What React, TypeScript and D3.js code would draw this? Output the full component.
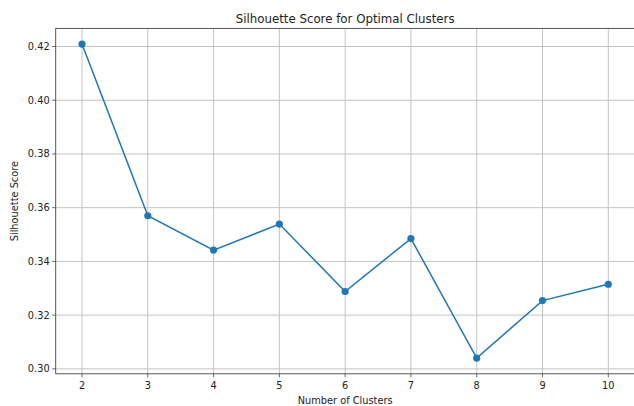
import React from "react";
import * as d3 from "d3";

const clusters = [2, 3, 4, 5, 6, 7, 8, 9, 10];
const scores = [0.4209, 0.357, 0.3442, 0.3539, 0.3288, 0.3485, 0.304, 0.3254, 0.3315];
const yTicks = [0.3, 0.32, 0.34, 0.36, 0.38, 0.4, 0.42];
const title = "Silhouette Score for Optimal Clusters";
const xLabel = "Number of Clusters";
const yLabel = "Silhouette Score";

const W = 634;
const H = 406;
const left = 55.7;
const right = 634.6;
const top = 28.4;
const bottom = 373.8;
const font = "DejaVu Sans, sans-serif";

export default function App() {
  const x = d3.scaleLinear().domain([1.6, 10.4]).range([left, right]);
  const ymin = d3.min(scores)!;
  const ymax = d3.max(scores)!;
  const pad = (ymax - ymin) * 0.05;
  const y = d3.scaleLinear().domain([ymin - pad, ymax + pad]).range([bottom, top]);
  const line = d3
    .line<number>()
    .x((_, i) => x(clusters[i]))
    .y((d) => y(d));
  const color = "#1f77b4";
  return (
    <svg
      width={W}
      height={H}
      style={{ position: "absolute", left: 0, top: 0, background: "#fff" }}
      fontFamily={font}
    >
      <rect x={0} y={0} width={W} height={H} fill="#fff" />
      {/* grid */}
      {clusters.map((c) => (
        <line key={"gx" + c} x1={x(c)} x2={x(c)} y1={top} y2={bottom} stroke="#c4c4c4" strokeWidth={1} />
      ))}
      {yTicks.map((t) => (
        <line key={"gy" + t} x1={left} x2={right} y1={y(t)} y2={y(t)} stroke="#c4c4c4" strokeWidth={1} />
      ))}
      {/* spines */}
      <rect x={left} y={top} width={right - left} height={bottom - top} fill="none" stroke="#444" strokeWidth={0.9} />
      {/* x ticks */}
      {clusters.map((c) => (
        <g key={"xt" + c}>
          <line x1={x(c)} x2={x(c)} y1={bottom} y2={bottom + 3.5} stroke="#444" strokeWidth={0.8} />
          <text x={x(c)} y={bottom + 15.5} fontSize={9.8} textAnchor="middle" fill="#222">
            {c}
          </text>
        </g>
      ))}
      {/* y ticks */}
      {yTicks.map((t) => (
        <g key={"yt" + t}>
          <line x1={left - 3.5} x2={left} y1={y(t)} y2={y(t)} stroke="#444" strokeWidth={0.8} />
          <text x={left - 6} y={y(t) + 3.5} fontSize={9.8} textAnchor="end" fill="#222">
            {d3.format(".2f")(t)}
          </text>
        </g>
      ))}
      {/* line */}
      <path d={line(scores)!} fill="none" stroke={color} strokeWidth={1.5} />
      {scores.map((s, i) => (
        <circle key={"p" + i} cx={x(clusters[i])} cy={y(s)} r={3.6} fill={color} />
      ))}
      {/* labels */}
      <text x={(left + right) / 2} y={22.5} fontSize={11.8} textAnchor="middle" fill="#222">
        {title}
      </text>
      <text x={(left + right) / 2} y={404} fontSize={9.8} textAnchor="middle" fill="#222">
        {xLabel}
      </text>
      <text
        transform={`translate(17.5, ${(top + bottom) / 2}) rotate(-90)`}
        fontSize={9.8}
        textAnchor="middle"
        fill="#222"
      >
        {yLabel}
      </text>
    </svg>
  );
}
